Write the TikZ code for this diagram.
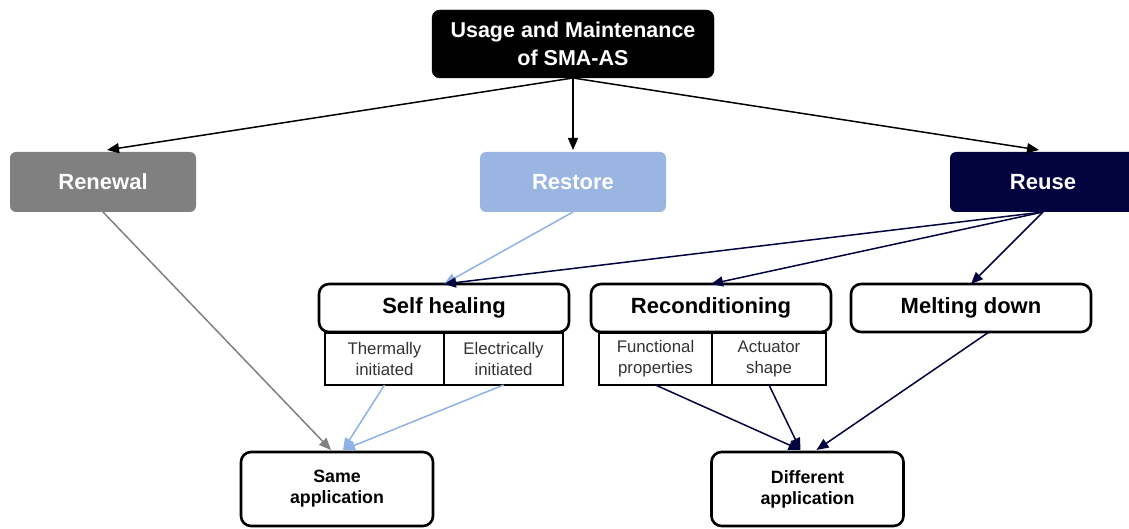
\documentclass[tikz,border=0pt]{standalone}
\usepackage{fontspec}
\setmainfont{Liberation Sans}
\usetikzlibrary{arrows.meta}
\definecolor{renewgray}{HTML}{808080}
\definecolor{restoreblue}{HTML}{9BB5E3}
\definecolor{reusenavy}{HTML}{03033F}
\definecolor{linkblue}{HTML}{8EB2E6}
\definecolor{subtext}{HTML}{333333}
\tikzset{
  every node/.style={inner sep=0pt, outer sep=0pt, align=center},
  topbox/.style={fill=black, draw=black, rounded corners=8pt, text=white, font=\fontsize{21.5}{28}\selectfont\bfseries, minimum width=282pt, minimum height=68pt},
  catbox/.style={rounded corners=6pt, text=white, font=\fontsize{22}{24}\selectfont\bfseries, minimum width=186pt, minimum height=60pt},
  methbox/.style={draw=black, line width=2.6pt, rounded corners=10pt, fill=white, font=\fontsize{22}{25}\selectfont\bfseries, minimum width=250pt, minimum height=48pt},
  subbox/.style={draw=black, line width=1.5pt, fill=white, text=subtext, font=\fontsize{16.8}{21}\selectfont, minimum height=52pt},
  appbox/.style={draw=black, line width=2.6pt, rounded corners=10pt, fill=white, font=\fontsize{17.8}{21}\selectfont\bfseries, minimum width=192pt, minimum height=74pt},
  arr/.style={line width=1.5pt, -{Triangle[length=12pt,width=10pt]}},
}
\begin{document}
\begin{tikzpicture}[x=1pt,y=-1pt]
\useasboundingbox (0,0) rectangle (1129,529);
% top
\node[topbox] (top) at (573,44) {\raisebox{-2pt}{\parbox{280pt}{\centering Usage and Maintenance\\of SMA-AS}}};
% categories
\node[catbox, fill=renewgray] (renew) at (103,182) {Renewal};
\node[catbox, fill=restoreblue] (restore) at (573,182) {Restore};
\node[catbox, fill=reusenavy] (reuse) at (1043,182) {Reuse};
% sub boxes
\node[subbox, minimum width=119pt] (therm) at (384.5,359) {Thermally\\initiated};
\node[subbox, minimum width=119pt] (elec) at (503.5,359) {Electrically\\initiated};
\node[subbox, minimum width=113pt] (func) at (655.5,359) {Functional\\properties};
\node[subbox, minimum width=114pt] (act) at (769,359) {Actuator\\shape};
% methods
\node[methbox] (self) at (444,308) {Self healing};
\node[methbox, minimum width=240pt] (recond) at (711,308) {Reconditioning};
\node[methbox, minimum width=240pt] (melt) at (971,308) {Melting down};
% applications
\node[appbox] (same) at (337,489) {Same\\application};
\node[appbox] (diff) at (807.5,489) {Different\\application};
% arrows from top
\draw[arr, black] (top.south) -- ([xshift=4pt,yshift=2pt]renew.north);
\draw[arr, black] (top.south) -- ([yshift=2pt]restore.north);
\draw[arr, black] (top.south) -- ([xshift=-4pt,yshift=2pt]reuse.north);
% restore / reuse to methods
\draw[arr, linkblue] (restore.south) -- (self.north);
\draw[arr, reusenavy] (reuse.south) -- (self.north);
\draw[arr, reusenavy] (reuse.south) -- (recond.north);
\draw[arr, reusenavy] (reuse.south) -- (melt.north);
% to applications
\draw[arr, renewgray] (renew.south) -- ([xshift=-6pt,yshift=2pt]same.north);
\draw[arr, linkblue] (therm.south) -- ([xshift=6pt,yshift=2pt]same.north);
\draw[arr, linkblue] (elec.south) -- ([xshift=6pt,yshift=2pt]same.north);
\draw[arr, reusenavy] (func.south) -- ([xshift=-7pt,yshift=2pt]diff.north);
\draw[arr, reusenavy] (act.south) -- ([xshift=-7pt,yshift=2pt]diff.north);
\draw[arr, reusenavy] ([xshift=18pt]melt.south) -- ([xshift=9pt,yshift=2pt]diff.north);
\end{tikzpicture}
\end{document}
